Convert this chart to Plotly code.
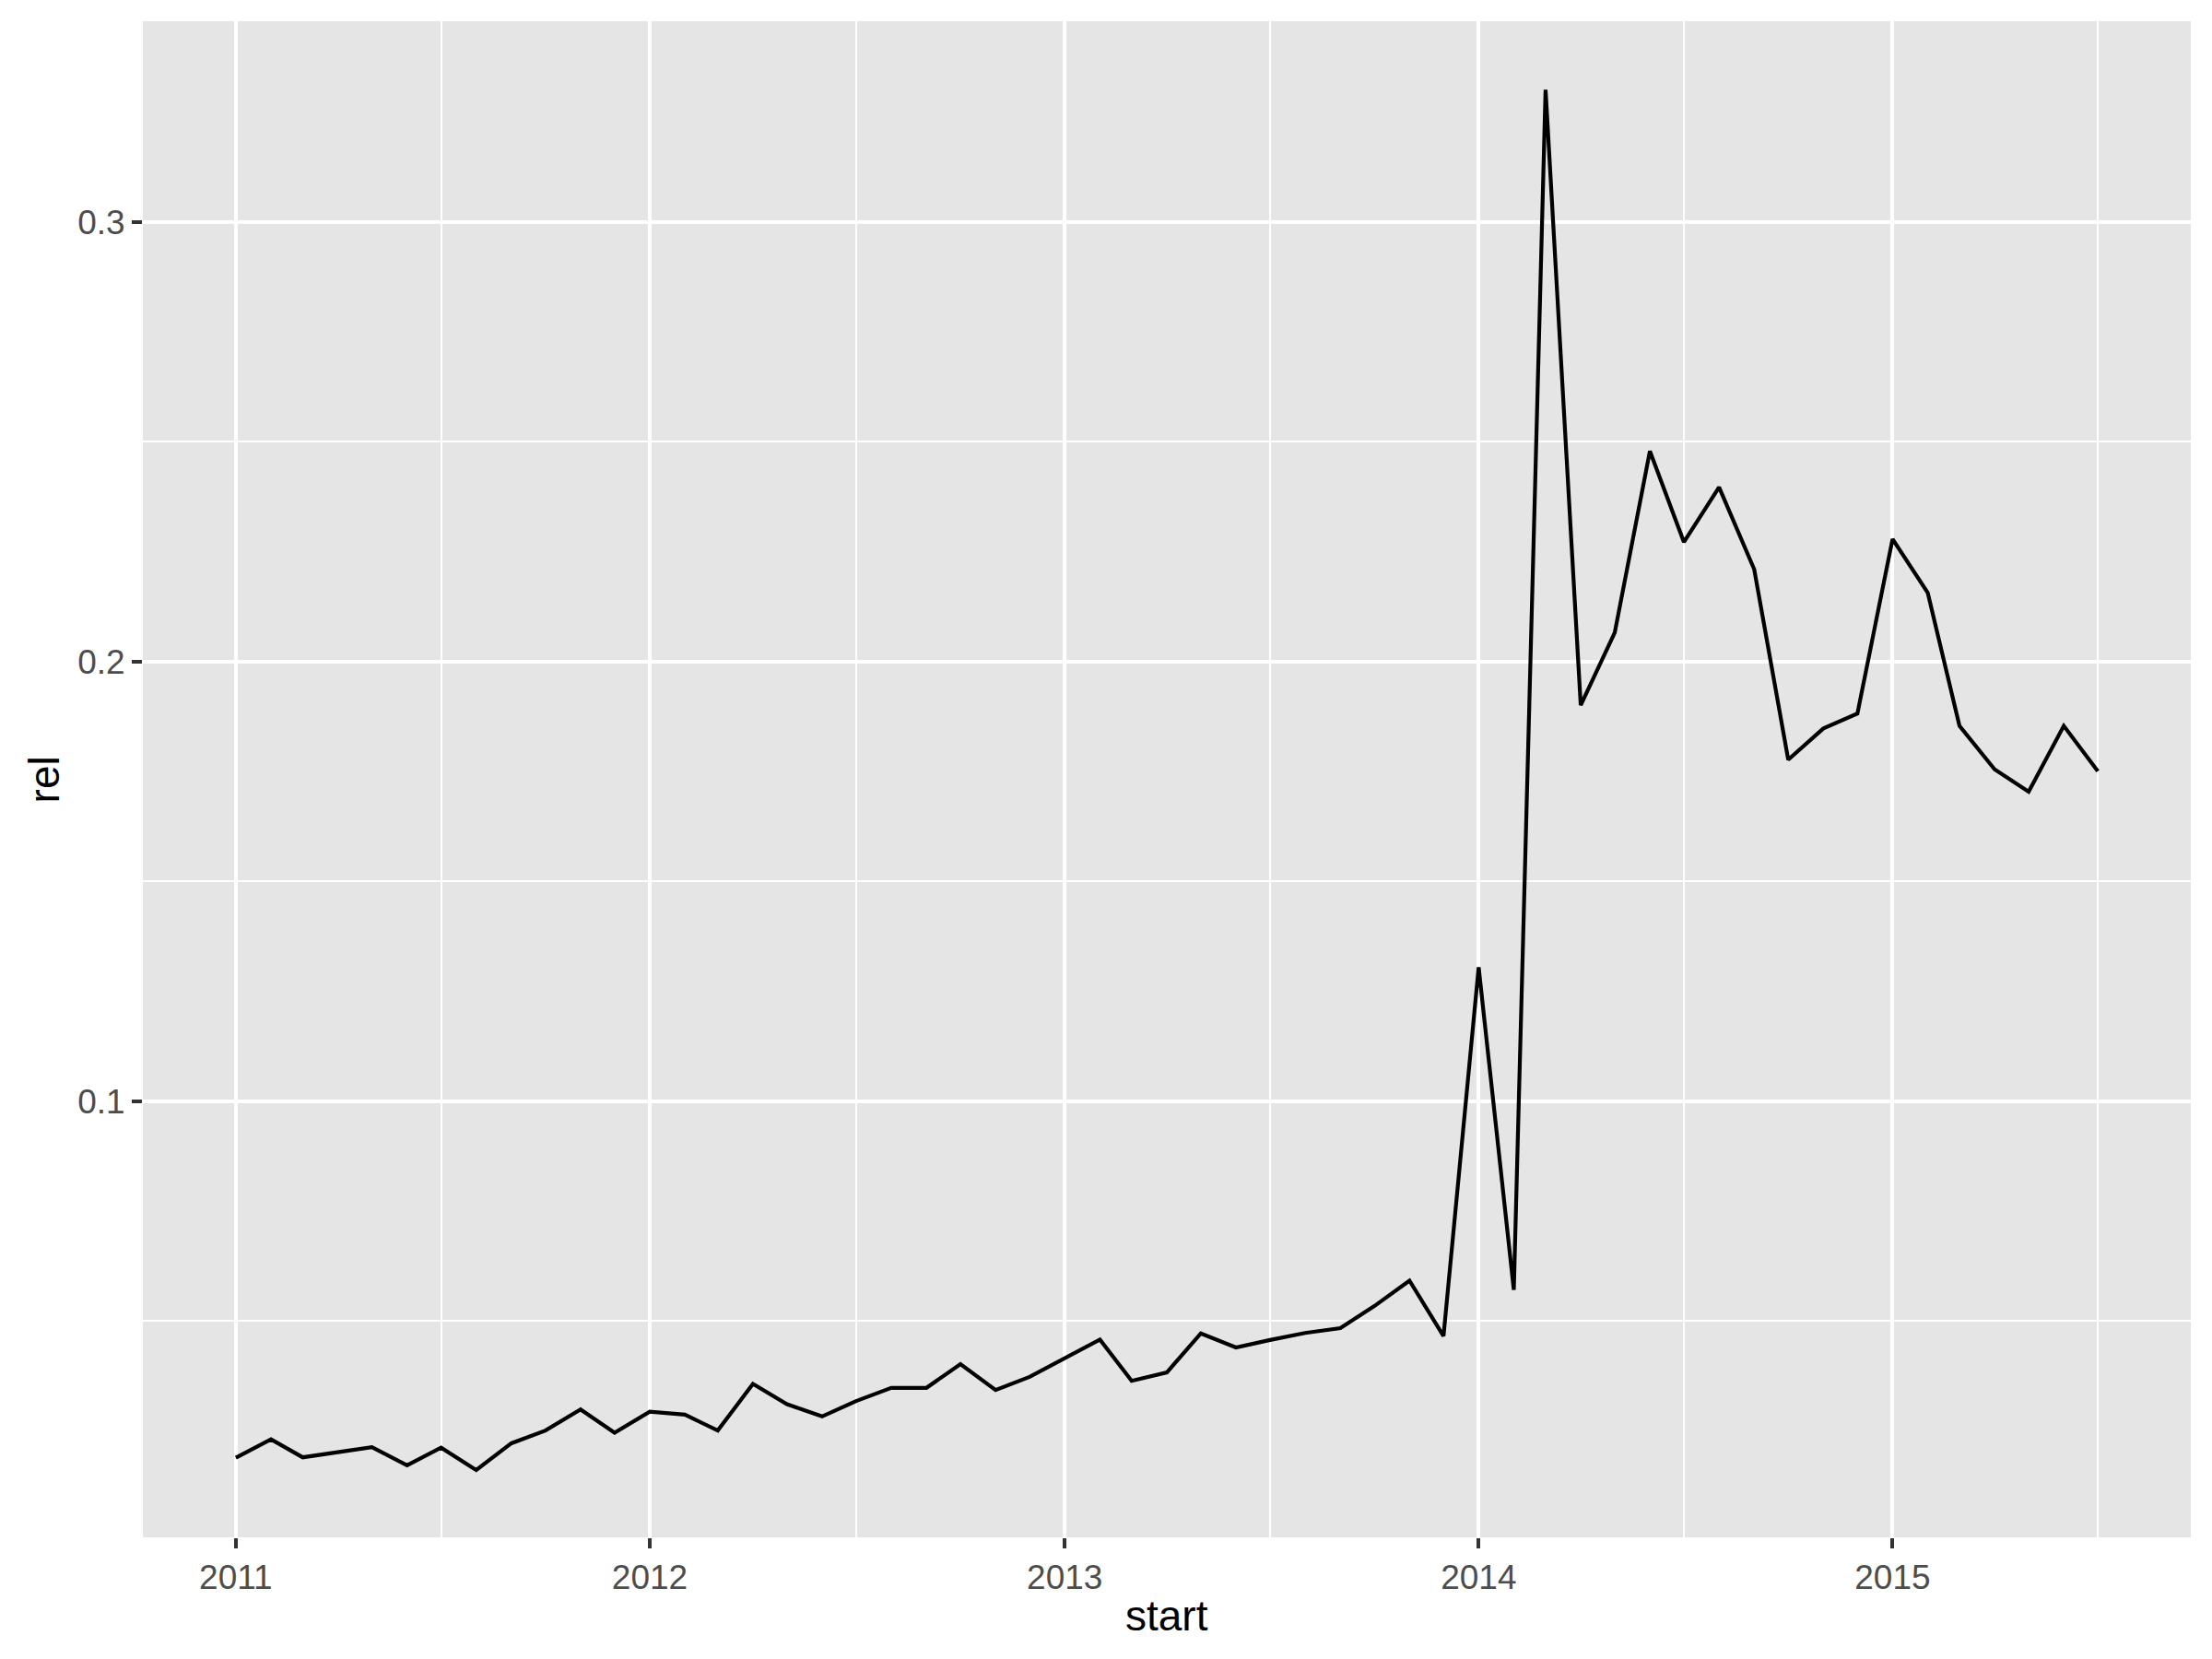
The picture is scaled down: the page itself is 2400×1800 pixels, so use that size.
import pandas as pd
import plotly.graph_objects as go

start = pd.date_range("2011-01-01", periods=55, freq="MS")
rel = [
    0.0189, 0.0231, 0.0190, 0.0201, 0.0213, 0.0172, 0.0212, 0.0161, 0.0222, 0.0251, 0.0299, 0.0246,
    0.0294, 0.0287, 0.0251, 0.0357, 0.0311, 0.0283, 0.0318, 0.0348, 0.0348, 0.0402, 0.0343, 0.0373,
    0.0416, 0.0458, 0.0364, 0.0383, 0.0472, 0.0440, 0.0457, 0.0473, 0.0484, 0.0534, 0.0592, 0.0466,
    0.1305, 0.0571, 0.3301, 0.1901, 0.2066, 0.2479, 0.2272, 0.2397, 0.2210, 0.1777, 0.1848, 0.1882,
    0.2279, 0.2157, 0.1854, 0.1755, 0.1704, 0.1854, 0.1751,
]

FONT = "Liberation Sans, Arial, sans-serif"

fig = go.Figure(go.Scatter(x=start, y=rel, mode="lines",
                           line=dict(color="black", width=4.2)))

# page body has an 8px margin, so the plot area is placed accordingly
fig.update_layout(
    width=2400, height=1800,
    margin=dict(l=147, r=31, t=15, b=140, autoexpand=False),
    paper_bgcolor="white", plot_bgcolor="#E5E5E5",
    showlegend=False,
    font=dict(family=FONT),
)
fig.update_xaxes(
    automargin=False,
    range=["2010-10-11", "2015-09-21"],
    tickformat="%Y", dtick="M12", tick0="2011-01-01",
    showgrid=True, gridcolor="white", gridwidth=4.4,
    ticks="outside", ticklen=11, tickwidth=4, tickcolor="#333333",
    tickfont=dict(size=37, color="#4D4D4D", family=FONT),
    minor=dict(dtick="M6", tick0="2010-07-01", showgrid=True,
               gridcolor="white", gridwidth=2.2, ticks=""),
    zeroline=False, showline=False,
)
fig.update_yaxes(
    automargin=False,
    range=[0.0008, 0.3457],
    dtick=0.1, tick0=0,
    showgrid=True, gridcolor="white", gridwidth=4.4,
    ticks="outside", ticklen=11, tickwidth=4, tickcolor="#333333",
    tickfont=dict(size=37, color="#4D4D4D", family=FONT),
    minor=dict(dtick=0.05, tick0=0, showgrid=True,
               gridcolor="white", gridwidth=2.2, ticks=""),
    zeroline=False, showline=False,
)
fig.add_annotation(text="start", xref="paper", yref="paper", x=0.5, y=-0.0517,
                   showarrow=False, xanchor="center", yanchor="middle",
                   font=dict(size=46, color="black", family=FONT))
fig.add_annotation(text="rel", xref="paper", yref="paper", x=-0.0482, y=0.5,
                   textangle=-90, showarrow=False, xanchor="center", yanchor="middle",
                   font=dict(size=46, color="black", family=FONT))

fig.write_html("out.html")
